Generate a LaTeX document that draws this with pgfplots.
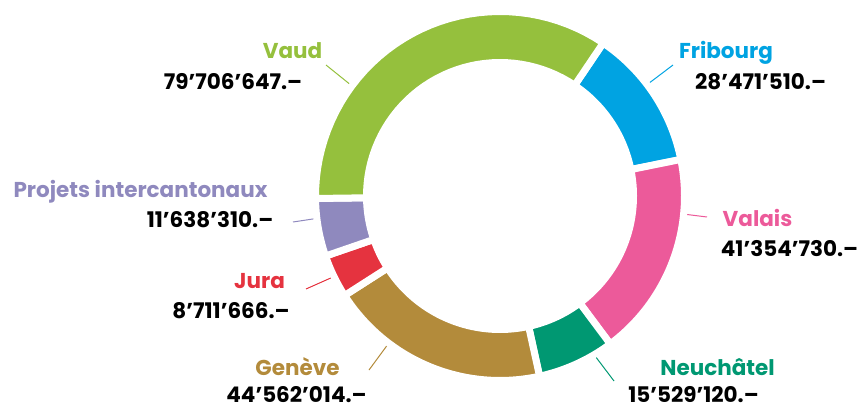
\documentclass[border=0pt]{standalone}
\usepackage{fontspec}
\setmainfont{Poppins}
\usepackage{pgfplots}
\usepackage{pgfplotstable}
\pgfplotsset{compat=1.18}
\usepgflibrary{fpu}

\definecolor{cvaud}{HTML}{95C03D}
\definecolor{cfri}{HTML}{00A3E2}
\definecolor{cval}{HTML}{EC5A9A}
\definecolor{cneu}{HTML}{009872}
\definecolor{cgen}{HTML}{B38B3B}
\definecolor{cjura}{HTML}{E5333F}
\definecolor{cproj}{HTML}{8F89BE}

% clockwise order, starting at the top right
\pgfplotstableread{
canton value
Fribourg 28471510
Valais 41354730
Neuchatel 15529120
Geneve 44562014
Jura 8711666
Projets 11638310
Vaud 79706647
}\cantons

\pgfkeys{/pgf/fpu=true,/pgf/fpu/output format=fixed}
\gdef\total{0}
\foreach \i in {0,...,6}{%
  \pgfplotstablegetelem{\i}{value}\of\cantons
  \pgfmathparse{\total+\pgfplotsretval}%
  \xdef\total{\pgfmathresult}}
\gdef\cum{56}
\foreach \i in {0,...,6}{%
  \pgfplotstablegetelem{\i}{value}\of\cantons
  \pgfmathparse{\cum-360*\pgfplotsretval/\total}%
  \expandafter\xdef\csname s\i\endcsname{\cum}%
  \expandafter\xdef\csname e\i\endcsname{\pgfmathresult}%
  \xdef\cum{\pgfmathresult}}
\pgfkeys{/pgf/fpu=false}

\newcommand\slice[2]{%
  \edef\sA{\csname s#1\endcsname}\edef\sB{\csname e#1\endcsname}%
  \addplot[fill=#2, draw=white, line width=7pt, line join=round,
    variable=\t, samples at={0,...,81}]
   ({500+(\t<=40 ? 184.5 : 133.5)*cos(\t<=40 ? \sA+(\sB-\sA)*\t/40 : \sB+(\sA-\sB)*(\t-41)/40)},
    {212+(\t<=40 ? 184.5 : 133.5)*sin(\t<=40 ? \sA+(\sB-\sA)*\t/40 : \sB+(\sA-\sB)*(\t-41)/40)}) -- cycle;}

\begin{document}
\begin{tikzpicture}
\begin{axis}[x=1pt, y=1pt, xmin=0, xmax=861, ymin=0, ymax=408,
  hide axis, clip=false, scale only axis]
\path (axis cs:0,0) rectangle (axis cs:861,408);
% leader lines (px_y -> 408 - px_y)
\draw[cvaud, line width=1pt] (axis cs:326,343) -- (axis cs:362,314);
\draw[cfri, line width=1pt] (axis cs:673,343) -- (axis cs:640,318);
\draw[cproj, line width=1pt] (axis cs:293,186) -- (axis cs:326,191);
\draw[cval, line width=1pt] (axis cs:675,195) -- (axis cs:707,191);
\draw[cjura, line width=1pt] (axis cs:306,119) -- (axis cs:342,135);
\draw[cgen, line width=1pt] (axis cs:369,38) -- (axis cs:394,72);
\draw[cneu, line width=1pt] (axis cs:614,27) -- (axis cs:586,64);

\slice{0}{cfri}
\slice{1}{cval}
\slice{2}{cneu}
\slice{3}{cgen}
\slice{4}{cjura}
\slice{5}{cproj}
\slice{6}{cvaud}

\tikzset{lab/.style={anchor=base, inner sep=0pt, font=\bfseries\fontsize{21.5}{24}\selectfont}}
\node[lab, text=cvaud] at (axis cs:292.5,349) {Vaud};
\node[lab] at (axis cs:233,319) {79’706’647.–};
\node[lab, text=cfri] at (axis cs:726,349) {Fribourg};
\node[lab] at (axis cs:760.5,319) {28’471’510.–};
\node[lab, text=cproj] at (axis cs:140.5,211) {Projets intercantonaux};
\node[lab] at (axis cs:210,181) {11’638’310.–};
\node[lab, text=cval] at (axis cs:757.5,182) {Valais};
\node[lab] at (axis cs:789.5,152) {41’354’730.–};
\node[lab, text=cjura] at (axis cs:259.5,120) {Jura};
\node[lab] at (axis cs:231,90) {8’711’666.–};
\node[lab, text=cgen] at (axis cs:297.5,33) {Genève};
\node[lab] at (axis cs:296.5,6) {44’562’014.–};
\node[lab, text=cneu] at (axis cs:717.5,33) {Neuchâtel};
\node[lab] at (axis cs:693.5,6) {15’529’120.–};
\end{axis}
\end{tikzpicture}
\end{document}
